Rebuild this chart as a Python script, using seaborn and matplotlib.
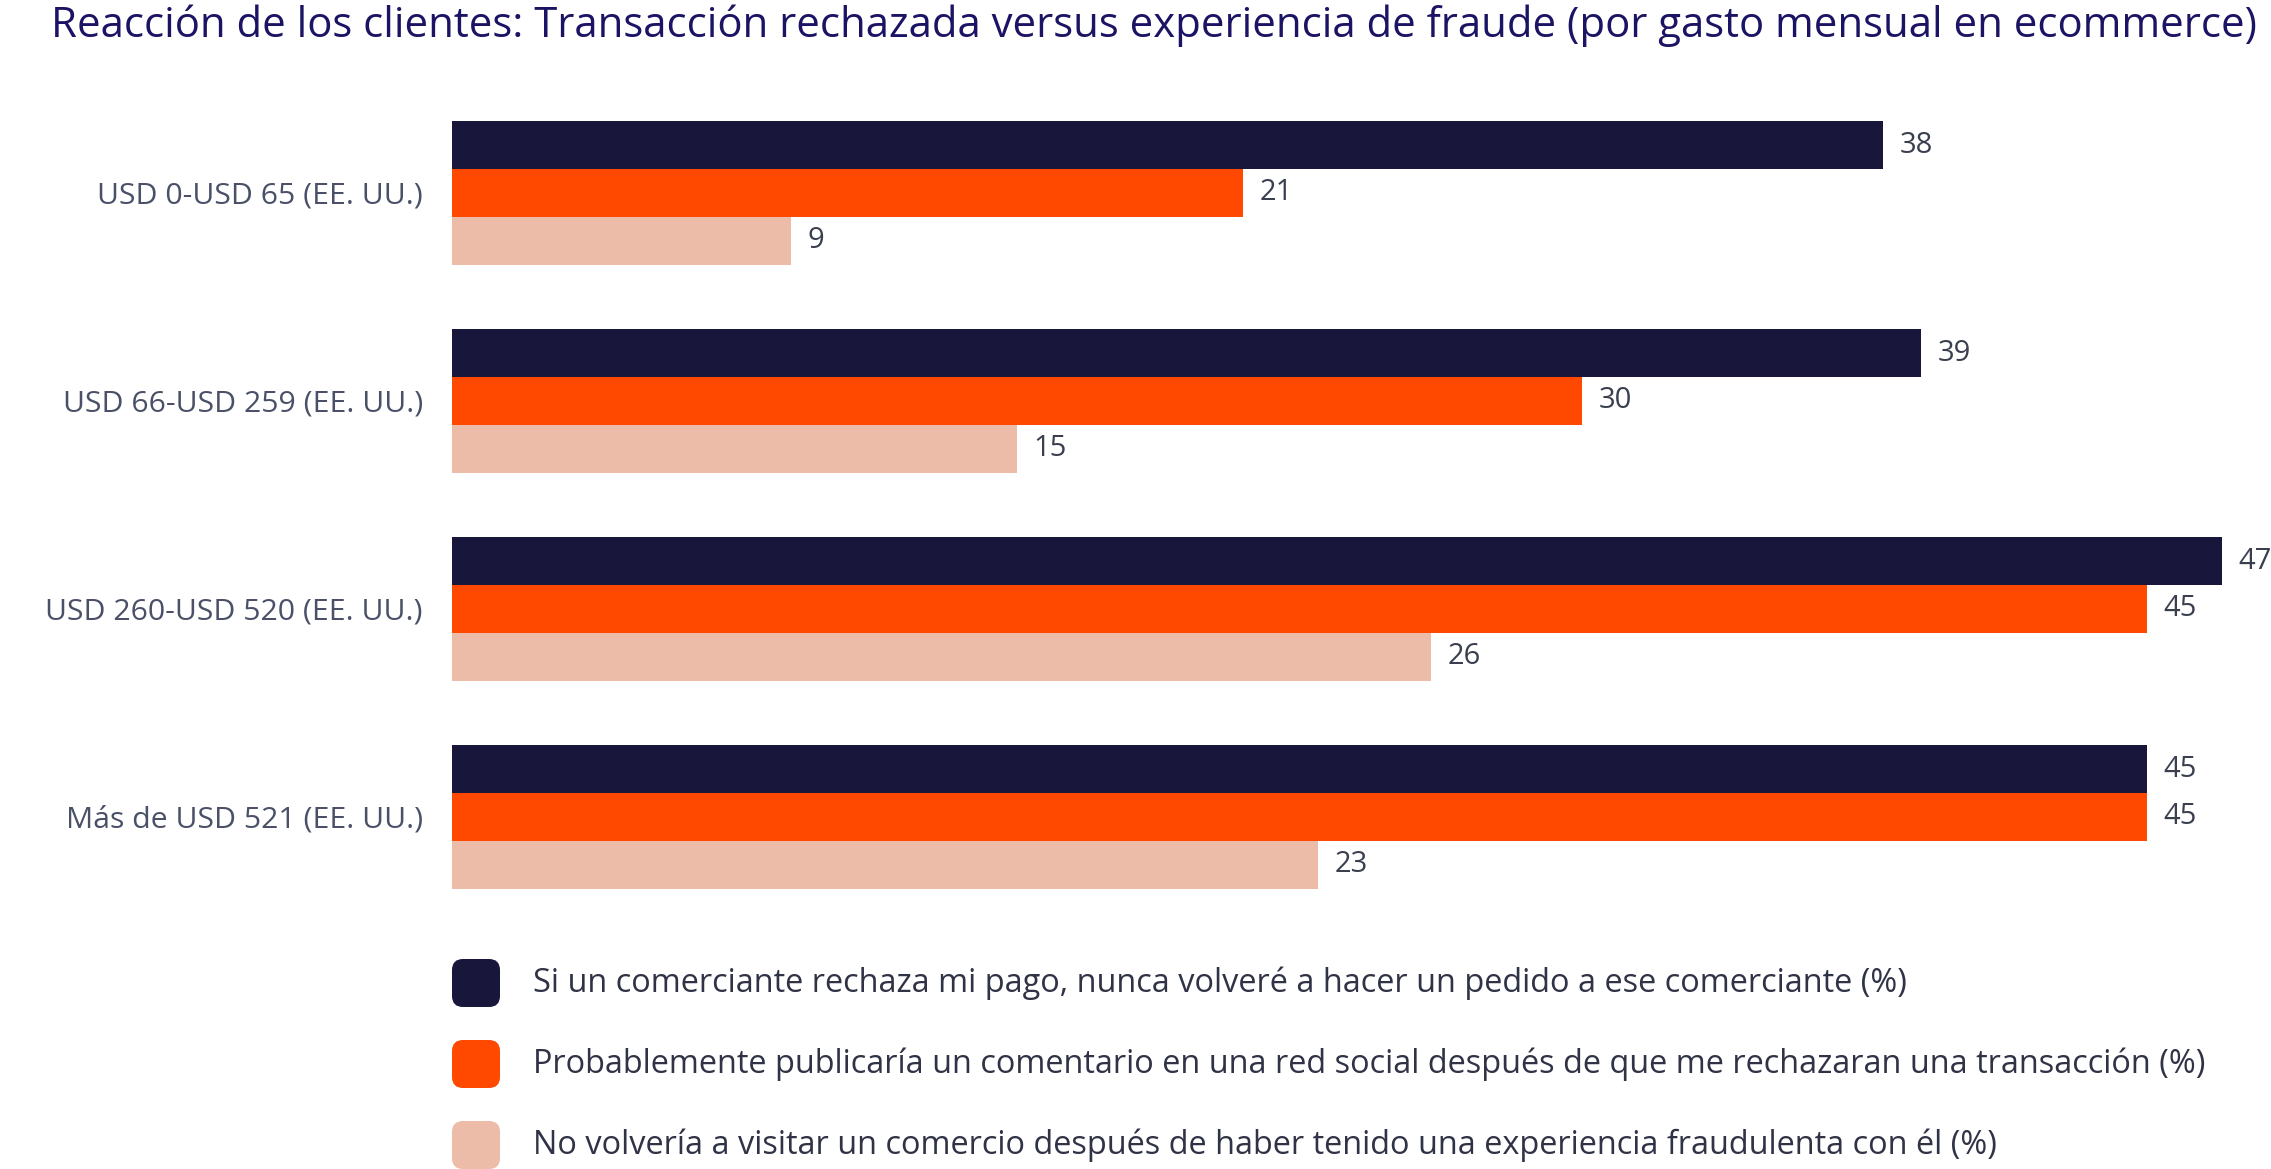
import pandas as pd
import matplotlib.pyplot as plt
import seaborn as sns
from matplotlib.patches import FancyBboxPatch
from matplotlib.transforms import IdentityTransform

# Data
categories = ["USD 0-USD 65 (EE. UU.)", "USD 66-USD 259 (EE. UU.)",
              "USD 260-USD 520 (EE. UU.)", "Más de USD 521 (EE. UU.)"]
series = [
    "Si un comerciante rechaza mi pago, nunca volveré a hacer un pedido a ese comerciante (%)",
    "Probablemente publicaría un comentario en una red social después de que me rechazaran una transacción (%)",
    "No volvería a visitar un comercio después de haber tenido una experiencia fraudulenta con él (%)",
]
nunca_volvere = [38, 39, 47, 45]
publicaria = [21, 30, 45, 45]
no_volveria = [9, 15, 26, 23]
colors = ["#18163b", "#ff4900", "#ecbca8"]

df = pd.DataFrame({
    "segmento": categories * 3,
    "serie": [s for s in series for _ in categories],
    "valor": nunca_volvere + publicaria + no_volveria,
})

sns.set_theme(style="white")
plt.rcParams["font.family"] = ["Open Sans", "DejaVu Sans"]

W, H = 2271, 1169
fig = plt.figure(figsize=(W / 100, H / 100), dpi=100)
ax = fig.add_axes([452 / W, 1 - 921 / H, 1 - 452 / W, 832 / H])

sns.barplot(data=df, y="segmento", x="valor", hue="serie", order=categories,
            hue_order=series, palette=colors, saturation=1, width=0.69,
            orient="h", linewidth=0, legend=False, ax=ax)

for cont in ax.containers:
    ax.bar_label(cont, padding=12, fontsize=21, color="#3a3f4f", clip_on=False)

ax.set_xlim(0, 48.3)
ax.set_ylim(3.5, -0.5)
ax.set_xlabel("")
ax.set_ylabel("")
ax.set_xticks([])
ax.tick_params(axis="y", length=0, pad=21, labelsize=21.7, labelcolor="#4a5068")
sns.despine(ax=ax, left=True, bottom=True)

fig.text(51 / W, 1 - 26 / H,
         "Reacción de los clientes: Transacción rechazada versus experiencia de fraude "
         "(por gasto mensual en ecommerce)",
         fontsize=30.2, color="#1b1464", va="center", ha="left")

# legend with rounded squares
for i, (label, col) in enumerate(zip(series, colors)):
    yc = H - (983 + i * 81)
    box = FancyBboxPatch((452, yc - 24), 48, 48,
                         boxstyle="round,pad=0,rounding_size=11",
                         facecolor=col, edgecolor="none",
                         transform=IdentityTransform())
    fig.add_artist(box)
    fig.text(533 / W, yc / H, label, fontsize=23.4, color="#2f3345",
             va="center", ha="left")

fig.savefig("out.png", dpi=100)
